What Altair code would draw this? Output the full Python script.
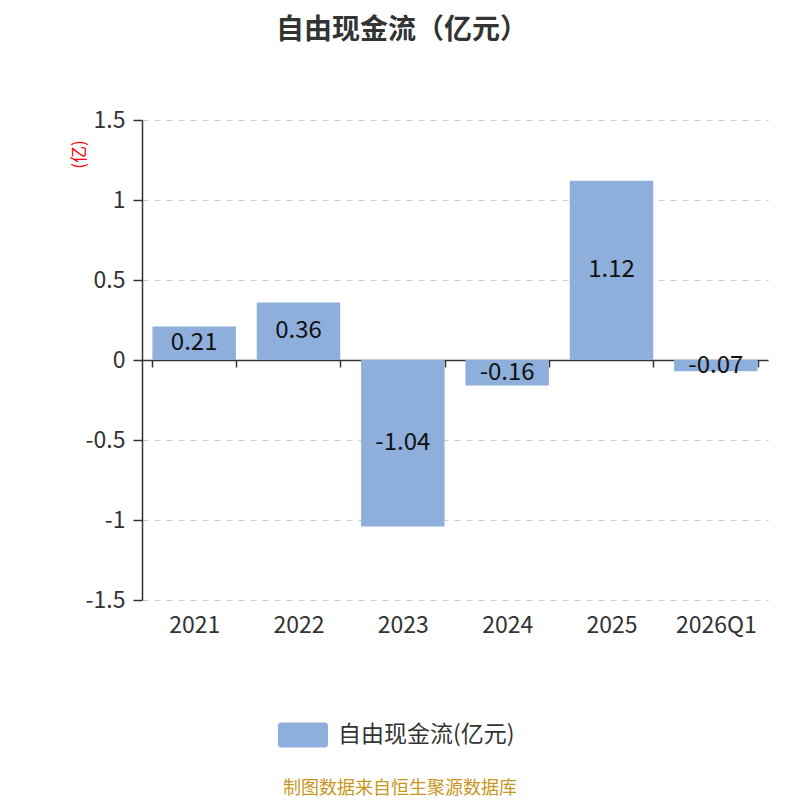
import altair as alt
import pandas as pd

categories = ["2021", "2022", "2023", "2024", "2025", "2026Q1"]
values = [0.21, 0.36, -1.04, -0.16, 1.12, -0.07]
series_name = "自由现金流(亿元)"
y_ticks = [-1.5, -1, -0.5, 0, 0.5, 1, 1.5]

FONT = "Noto Sans CJK SC"
BAR = "#8eaedb"

df = pd.DataFrame({"cat": categories, "val": values,
                   "lab": [f"{v:.2f}" for v in values],
                   "series": [series_name] * len(values)})

x_enc = alt.X("cat:N", sort=categories,
              scale=alt.Scale(paddingInner=0.2, paddingOuter=0.1),
              axis=alt.Axis(title=None, orient="bottom", offset=-240, tickBand="extent",
                            domainColor="#333", domainWidth=1.5, tickColor="#333", tickWidth=1.5,
                            tickSize=7, labelPadding=247, labelFontSize=23, labelColor="#333",
                            labelFont=FONT, grid=False, labelAngle=0))

y_scale = alt.Scale(domain=[-1.5, 1.5], nice=False, zero=False)

bars = alt.Chart(df).mark_bar(color=BAR).encode(
    x=x_enc,
    y=alt.Y("val:Q", scale=y_scale,
            axis=alt.Axis(values=y_ticks, labelExpr="'' + datum.value",
                          title="(亿)", titleColor="red", titleFont=FONT,
                          titleFontSize=17, titleFontWeight="normal", titleAngle=270,
                          titleX=-63, titleY=34, titleAlign="center", titleBaseline="middle",
                          labelFontSize=23, labelColor="#333", labelFont=FONT, labelPadding=8,
                          domainColor="#333", domainWidth=1.5, tickColor="#333", tickWidth=1.5,
                          tickSize=9, grid=True, gridColor="#cccccc", gridDash=[6, 6],
                          gridWidth=1)),
    color=alt.Color("series:N", scale=alt.Scale(range=[BAR]),
                    legend=alt.Legend(title=None, orient="none", legendX=136, legendY=590,
                                      padding=0, labelFontSize=23, labelColor="#333",
                                      labelFont=FONT, labelLimit=400, symbolSize=2500,
                                      symbolOpacity=1, symbolStrokeWidth=0,
                                      symbolType="M-0.88,-0.5 H0.88 A0.12,0.12 0 0 1 1,-0.38 V0.38 A0.12,0.12 0 0 1 0.88,0.5 H-0.88 A0.12,0.12 0 0 1 -1,0.38 V-0.38 A0.12,0.12 0 0 1 -0.88,-0.5 Z",
                                      labelOffset=10)),
)

labels = alt.Chart(df).transform_calculate(mid="datum.val / 2").mark_text(
    fontSize=24, color="#111", font=FONT, baseline="middle", align="center"
).encode(
    x=alt.X("cat:N", sort=categories),
    y=alt.Y("mid:Q", scale=y_scale),
    text="lab:N",
)

footer = alt.Chart(pd.DataFrame({"t": ["制图数据来自恒生聚源数据库"]})).mark_text(
    fontSize=18, color="#c8961e", font=FONT, align="center", baseline="middle"
).encode(x=alt.value(258), y=alt.value(669), text="t:N")

chart = alt.layer(bars, labels, footer).properties(
    width=626, height=480,
    title=alt.TitleParams("自由现金流（亿元）", fontSize=28, fontWeight="bold", color="#333",
                          font=FONT, anchor="middle", offset=64, dx=-53),
    autosize=alt.AutoSizeParams(type="none"),
    padding={"left": 134, "top": 112, "right": 24, "bottom": 200},
).configure_view(stroke=None)

chart.save("out.html", embed_options={"renderer": "svg", "actions": False})
